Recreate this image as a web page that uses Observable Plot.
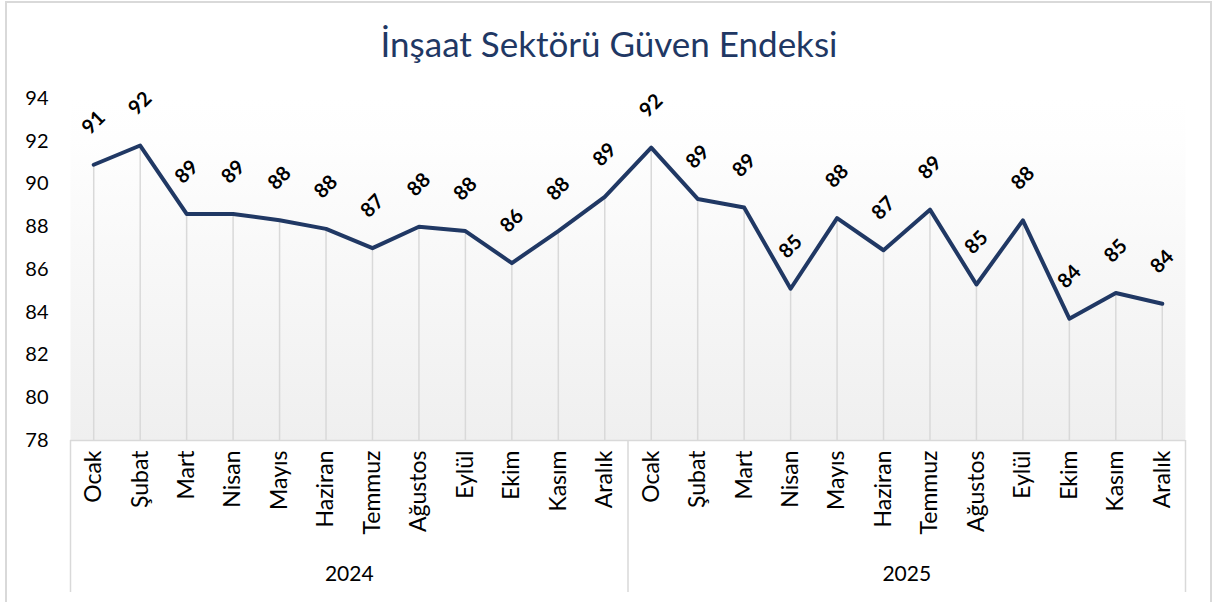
<!DOCTYPE html>
<html>
<head>
<meta charset="utf-8">
<script src="https://cdn.jsdelivr.net/npm/d3@7"></script>
<script src="https://cdn.jsdelivr.net/npm/@observablehq/plot@0.6"></script>
<style>
  html, body { margin: 0; padding: 0; background: #fff; }
  #wrap { position: relative; width: 1215px; height: 602px; overflow: hidden; font-family: Lato, "Open Sans", sans-serif; }
  #border { position: absolute; left: 5px; top: 1px; width: 1207px; height: 604px; border: 2px solid #d9d9d9; box-sizing: border-box; pointer-events: none; }
  #title { position: absolute; left: 5px; width: 1208px; top: 22px; text-align: center; font-size: 35px; color: #1f3864; font-family: Lato, sans-serif; }
  #chart { position: absolute; left: 0; top: 0; }
</style>
</head>
<body>
<div id="wrap">
  <div id="chart"></div>
  <div id="border"></div>
  <div id="title">İnşaat Sektörü Güven Endeksi</div>
</div>
<script>
const months = ["Ocak", "Şubat", "Mart", "Nisan", "Mayıs", "Haziran", "Temmuz", "Ağustos", "Eylül", "Ekim", "Kasım", "Aralık"];
const years = ["2024", "2025"];
const values2024 = [90.9, 91.8, 88.6, 88.6, 88.3, 87.9, 87.0, 88.0, 87.8, 86.3, 87.8, 89.4];
const values2025 = [91.7, 89.3, 88.9, 85.1, 88.4, 86.9, 88.8, 85.3, 88.3, 83.7, 84.9, 84.4];
const labels2024 = [91, 92, 89, 89, 88, 88, 87, 88, 88, 86, 88, 89];
const labels2025 = [92, 89, 89, 85, 88, 87, 89, 85, 88, 84, 85, 84];
const yTicks = [78, 80, 82, 84, 86, 88, 90, 92, 94];
const yDomain = [78, 94];

const data = [];
years.forEach((yr, k) => {
  const vals = k === 0 ? values2024 : values2025;
  const labs = k === 0 ? labels2024 : labels2025;
  months.forEach((m, j) => {
    data.push({i: k * 12 + j, month: m, year: yr, value: vals[j], label: labs[j]});
  });
});
const n = data.length;
const yearCenters = years.map((yr, k) => k * 12 + 5.5);
const separators = years.map((yr, k) => k * 12 - 0.5).concat([n - 0.5]);

const plot = Plot.plot({
  width: 1215,
  height: 602,
  marginLeft: 70,
  marginRight: 30,
  marginTop: 98,
  marginBottom: 162,
  style: {background: "transparent", fontFamily: "Lato, 'Open Sans', sans-serif", color: "#000"},
  x: {type: "linear", domain: [-0.5, n - 0.5], label: null},
  y: {domain: yDomain, label: null},
  marks: [
    Plot.frame({fill: "url(#plotbg)"}),
    Plot.ruleX(data, {x: "i", y1: yDomain[0], y2: "value", stroke: "#d9d9d9", strokeWidth: 1.5}),
    Plot.ruleY([yDomain[0]], {stroke: "#d9d9d9", strokeWidth: 1.5}),
    Plot.axisY({ticks: yTicks, tickSize: 0, tickPadding: 22, fontSize: 20, fill: "#000", label: null}),
    Plot.axisX({ticks: d3.range(n), tickFormat: i => data[i].month, tickRotate: -90, tickSize: 0, tickPadding: 10, fontSize: 23, fill: "#000", label: null}),
    Plot.axisX({ticks: yearCenters, tickFormat: (t, idx) => years[idx], tickSize: 0, tickPadding: 126, fontSize: 21, fill: "#000", label: null}),
    Plot.axisX({ticks: separators, tickFormat: () => "", tickSize: 152, stroke: "#d9d9d9", strokeWidth: 1.5, label: null}),
    Plot.line(data, {x: "i", y: "value", stroke: "#203864", strokeWidth: 4, strokeLinejoin: "round", strokeLinecap: "round"}),
    Plot.text(data, {x: "i", y: "value", text: "label", rotate: -45, dy: -42, fontSize: 20, fontWeight: "bold", fill: "#000"})
  ]
});

const svg = d3.select(plot);
const defs = svg.insert("defs", ":first-child");
const grad = defs.append("linearGradient").attr("id", "plotbg").attr("x1", 0).attr("y1", 0).attr("x2", 0).attr("y2", 1);
grad.append("stop").attr("offset", "0").attr("stop-color", "#ffffff");
grad.append("stop").attr("offset", "0.12").attr("stop-color", "#fefefe");
grad.append("stop").attr("offset", "1").attr("stop-color", "#efefef");

document.getElementById("chart").appendChild(plot);
</script>
</body>
</html>
